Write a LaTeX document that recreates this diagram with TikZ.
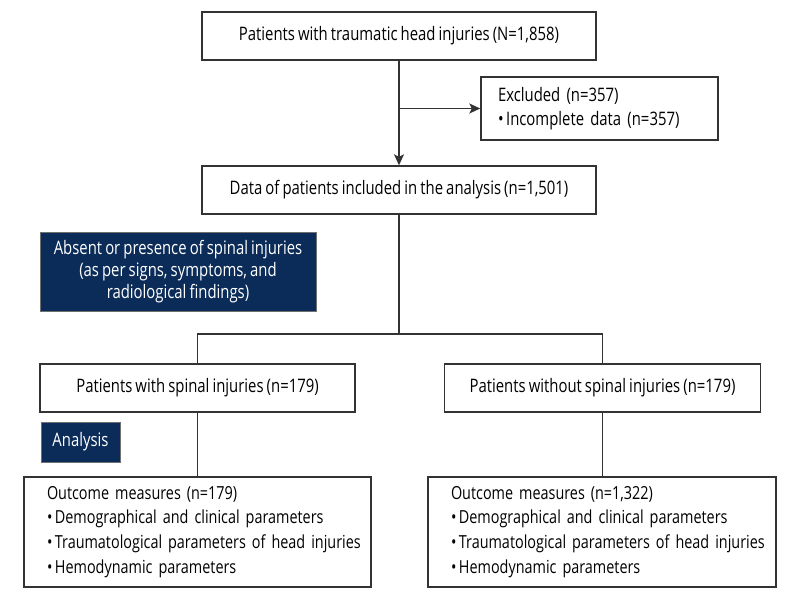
\documentclass[tikz,border=0pt]{standalone}
\usepackage{fontspec}
\setmainfont{Open Sans}[FakeStretch=0.8,WordSpace=0.8]
\usetikzlibrary{arrows.meta,calc}
\definecolor{navy}{HTML}{0B2C58}
\definecolor{edge}{HTML}{333333}
\newcommand{\bul}{\textbullet\hspace{2.5pt}}
\begin{document}
\begin{tikzpicture}[x=1pt,y=-1pt,
  every node/.style={font=\fontsize{18.6}{24.5}\selectfont},
  wbox/.style={draw=edge,line width=1.4pt,fill=white,inner sep=0pt,align=center},
  lbox/.style={draw=edge,line width=1.4pt,fill=white,inner ysep=0pt,align=left},
  dbox/.style={draw=edge!70,line width=0.8pt,fill=navy,text=white,inner sep=0pt,align=center},
  conn/.style={draw=edge,line width=1.3pt},
  arr/.style={conn,-{Stealth[length=11pt,width=10pt,inset=2.5pt]}}
]
\path[use as bounding box] (0,0) rectangle (800,600);
\node[wbox,minimum width=394pt,minimum height=48pt] (top) at (399,36) {Patients with traumatic head injuries (N=1,858)};
\node[lbox,minimum width=237pt,minimum height=63pt,inner xsep=17pt,text width=203pt,font=\fontsize{18.6}{24}\selectfont] (excl) at (599.5,108.5) {Excluded (n=357)\\\bul Incomplete data (n=357)};
\node[wbox,minimum width=394pt,minimum height=48pt] (data) at (399,190) {Data of patients included in the analysis (n=1,501)};
\node[dbox,minimum width=276pt,minimum height=79pt,font=\fontsize{18.6}{22}\selectfont] (absent) at (178,271.5) {Absent or presence of spinal injuries\\(as per signs, symptoms, and\\radiological findings)};
\node[wbox,minimum width=315pt,minimum height=48pt] (left) at (197.5,388) {Patients with spinal injuries (n=179)};
\node[wbox,minimum width=316pt,minimum height=48pt] (right) at (602.5,388) {Patients without spinal injuries (n=179)};
\node[dbox,minimum width=79pt,minimum height=40pt] (analysis) at (80.5,442) {Analysis};
\node[lbox,minimum width=347pt,minimum height=110pt,inner xsep=23pt,text width=301pt,font=\fontsize{18}{24.8}\selectfont] (bl) at (197.5,532) {\mbox{Outcome measures (n=179)}\\\mbox{\bul Demographical and clinical parameters}\\\mbox{\bul Traumatological parameters of head injuries}\\\mbox{\bul Hemodynamic parameters}};
\node[lbox,minimum width=348pt,minimum height=110pt,inner xsep=23pt,text width=302pt,font=\fontsize{18}{24.8}\selectfont] (br) at (602,532) {\mbox{Outcome measures (n=1,322)}\\\mbox{\bul Demographical and clinical parameters}\\\mbox{\bul Traumatological parameters of head injuries}\\\mbox{\bul Hemodynamic parameters}};
\coordinate (split) at (399,334);
\draw[arr] (top.south) -- (data.north);
\draw[arr] (top.south |- excl.west) -- (excl.west);
\draw[conn] (data.south) -- (split);
\draw[conn] (left.north) |- (split) -| (right.north);
\draw[conn] (left.south) -- (left.south |- bl.north);
\draw[conn] (right.south) -- (right.south |- br.north);
\end{tikzpicture}
\end{document}
